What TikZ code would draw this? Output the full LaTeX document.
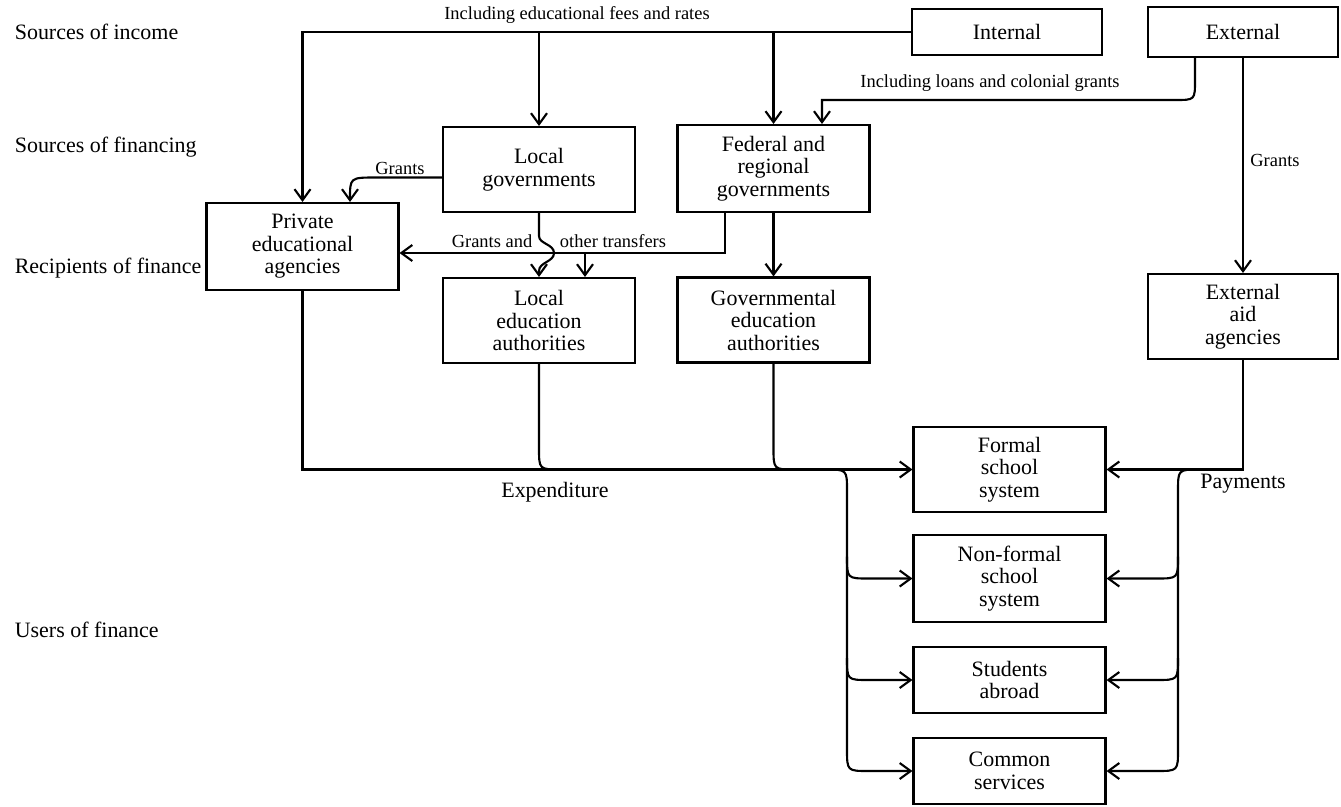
\documentclass[tikz,border=0pt]{standalone}
\usepackage{fontspec}
\setmainfont{Liberation Serif}
\usetikzlibrary{arrows.meta}

\tikzset{
  >={Straight Barb[length=2.2mm,width=3.2mm]},
  flow/.style={line width=1.2pt},
  box/.style={draw, align=center, minimum width=3.84cm, inner sep=2pt,
    font=\fontsize{12.5}{12.8}\selectfont},
  lbl/.style={inner sep=1pt, font=\fontsize{10.5}{12}\selectfont},
  biglbl/.style={inner sep=1pt, font=\fontsize{12.5}{14}\selectfont},
}

\begin{document}
\begin{tikzpicture}[x=0.02cm, y=-0.02cm, flow]
\useasboundingbox (0,0) rectangle (1341,806);

% row labels
    \node[biglbl, anchor=west] (rowincome) at (12,32) {Sources of income};
    \node[biglbl, anchor=west] (rowfinancing) at (12,147) {Sources of financing};
    \node[biglbl, anchor=west] (rowrecipients) at (12,268) {Recipients of finance};
    \node[biglbl, anchor=west] (rowusers) at (12,630) {Users of finance};

% boxes
    \node[box, minimum width=3.8cm, minimum height=0.92cm] (internal) at (1007,32) {Internal};
    \node[box, minimum width=3.8cm, minimum height=1.0cm] (external) at (1243,32) {External};
    \node[box, minimum height=1.7cm] (localgov) at (539,169.5) {Local\\governments};
    \node[box, minimum height=1.74cm] (federal) at (773.5,168.5) {Federal and\\regional\\governments};
    \node[box, minimum height=1.74cm] (private) at (302.5,246.5) {Private\\educational\\agencies};
    \node[box, minimum height=1.7cm] (localea) at (539,320.5) {Local\\education\\authorities};
    \node[box, minimum height=1.7cm] (goved) at (773.5,320) {Governmental\\education\\authorities};
    \node[box, minimum width=3.8cm, minimum height=1.7cm] (aid) at (1243,316.5) {External\\aid\\agencies};
    \node[box, minimum height=1.7cm] (formal) at (1009.5,469.5) {Formal\\school\\system};
    \node[box, minimum height=1.74cm] (nonformal) at (1009.5,578.5) {Non-formal\\school\\system};
    \node[box, minimum height=1.32cm] (students) at (1009.5,680) {Students\\abroad};
    \node[box, minimum height=1.32cm] (common) at (1009.5,771) {Common\\services};

% income
    \draw[->] (internal.west) -| (private.north);
    \draw[->] (localgov.north |- internal.west) -- (localgov.north);
    \draw[->] (federal.north |- internal.west) -- (federal.north);
    \draw[->] ([xshift=-0.96cm]external.south) -- (1195,80) .. controls (1195,100) .. (1175,100)
        -- (822,100) -- ([xshift=0.97cm]federal.north);
    \draw[->] (external.south) -- (aid.north);

% grants and transfers
    \draw[->] ([yshift=-0.16cm]localgov.west) -- (376,177.5) .. controls (350,177.5) .. ([xshift=0.95cm]private.north);
    \draw[->] ([xshift=-0.97cm]federal.south) |- ([yshift=-0.13cm]private.east);
    \coordinate (split) at (585,253);
    \draw[->] (split) -- (split |- localea.north);
    \draw[->] (localgov.south) -- (539,236) .. controls (539,244) and (554,244) .. (554,253)
        .. controls (554,262) and (539,262) .. (539,271) -- (localea.north);
    \draw[->] (federal.south) -- (goved.north);

% expenditure
    \draw[->] (private.south) |- (formal.west);
    \draw (localea.south) -- (539,448) .. controls (539,469.5) .. (561,469.5);
    \draw (goved.south) -- (773.5,448) .. controls (773.5,469.5) .. (795,469.5);
    \draw[->] (825,469.5) .. controls (847,469.5) .. (847,491) -- (847,749)
        .. controls (847,771) .. (869,771) -- (common.west);
    \foreach \Name/\Y in {nonformal/578.5, students/680}{
        \draw[->] (847,\Y-22) .. controls (847,\Y) .. (869,\Y) -- (\Name.west);
    }

% payments
    \draw[->] (aid.south) |- (formal.east);
    \draw[->] (1200,469.5) .. controls (1178,469.5) .. (1178,491) -- (1178,749)
        .. controls (1178,771) .. (1156,771) -- (common.east);
    \foreach \Name/\Y in {nonformal/578.5, students/680}{
        \draw[->] (1178,\Y-22) .. controls (1178,\Y) .. (1156,\Y) -- (\Name.east);
    }

% labels
    \node[lbl] (feesnote) at (577,15) {Including educational fees and rates};
    \node[lbl] (loansnote) at (990,83) {Including loans and colonial grants};
    \node[lbl] (grantsleft) at (400,168) {Grants};
    \node[lbl] (grantsright) at (1275,160) {Grants};
    \node[lbl] (grantsand) at (492,241) {Grants and};
    \node[lbl] (othertransfers) at (613,241) {other transfers};
    \node[biglbl] (expenditure) at (555,492) {Expenditure};
    \node[biglbl] (payments) at (1243,484) {Payments};

\end{tikzpicture}
\end{document}
